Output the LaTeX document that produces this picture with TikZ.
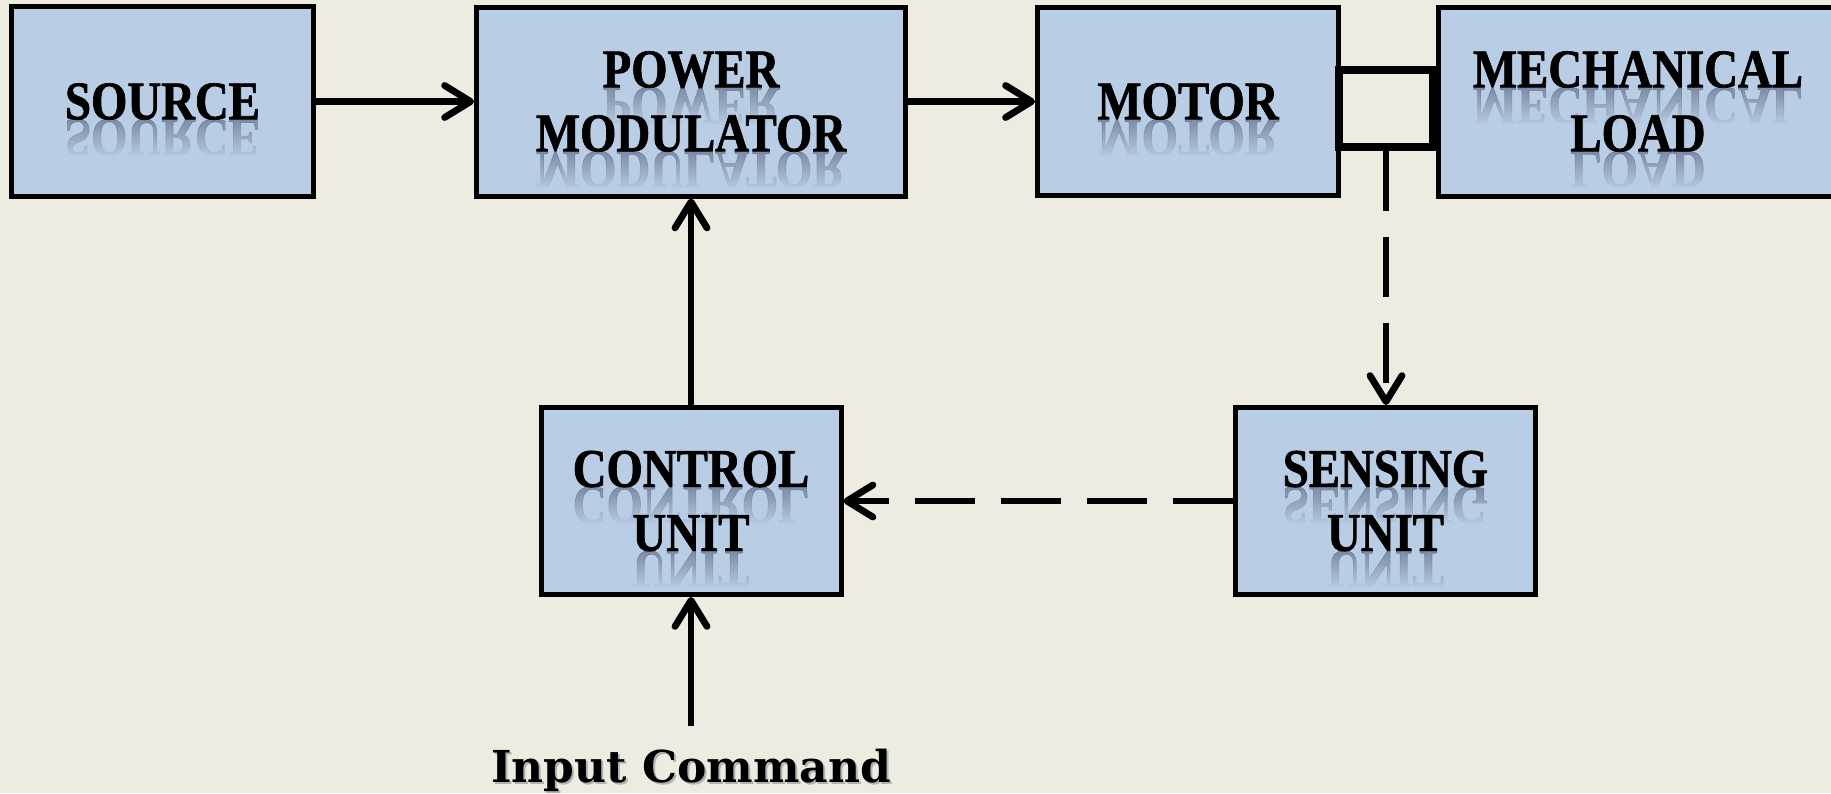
\documentclass[tikz,border=0pt]{standalone}
\usepackage{fontspec}
\usetikzlibrary{arrows.meta,fadings}
\newfontfamily\blockfont[FakeStretch=0.86,FakeBold=1.2]{Liberation Serif}
\newfontfamily\cmdfont{DejaVu Serif}
\definecolor{paper}{HTML}{EEECE1}
\definecolor{blockfill}{HTML}{B9CDE5}
\definecolor{mirror}{HTML}{34425A}
\tikzfading[name=mirrorfade, top color=transparent!100, bottom color=transparent!0]
\pgfdeclarelayer{fills}
\pgfdeclarelayer{mirrors}
\pgfsetlayers{fills,mirrors,main}
\tikzset{
  block/.style={draw=black, line width=2.5pt, rectangle, align=center, inner sep=0pt,
    font=\blockfont\bfseries\fontsize{27.2}{32}\selectfont},
  mirrored/.style={yscale=-1, anchor=base, inner sep=0pt, text=mirror, text opacity=0.6,
    font=\blockfont\bfseries\fontsize{27.2}{32}\selectfont},
  coupling/.style={draw=black, line width=4.25pt, rectangle, inner sep=0pt,
    minimum width=47pt, minimum height=38.5pt},
  flow/.style={line width=3.4pt, -{Straight Barb[length=13pt,width=16pt,round]}},
  feedback/.style={flow, dash pattern=on 30pt off 13pt},
  cmdtext/.style={anchor=base, inner sep=0pt, font=\cmdfont\bfseries\fontsize{22}{26}\selectfont}
}
% mirrored, fading copy of one text line under its baseline
\newcommand\mirrorline[3]{%
  \begin{pgfonlayer}{mirrors}
    \node[mirrored] (#1) at #2 {#3};
    \fill[blockfill, path fading=mirrorfade]
      ([xshift=-3pt,yshift=6pt]#1.base west) rectangle ([xshift=3pt,yshift=-1pt]#1.north east);
  \end{pgfonlayer}}

\begin{document}
\begin{tikzpicture}[x=0.5pt,y=0.5pt]
\useasboundingbox (0,0) rectangle (1831,-793);
\clip (0,0) rectangle (1831,-793);

% blocks
\node[block, minimum width=151pt,   minimum height=95pt]   (src)  at (162.5,-101.5) {SOURCE};
\node[block, minimum width=214.5pt, minimum height=94.5pt] (pm)   at (691,-101.5)   {POWER\\MODULATOR};
\node[block, minimum width=150.5pt, minimum height=94pt]   (mot)  at (1188,-101.5)  {MOTOR};
\node[block, minimum width=200pt,   minimum height=94.5pt] (load) at (1638,-101.5)  {MECHANICAL\\LOAD};
\node[block, minimum width=150pt,   minimum height=93.5pt] (ctl)  at (691,-501)     {CONTROL\\UNIT};
\node[block, minimum width=150pt,   minimum height=93.5pt] (sns)  at (1385.5,-501)  {SENSING\\UNIT};

% shaft coupling between motor and load
\node[coupling] (cpl) at (1386,-108.5) {};

% input label with its soft shadow
\node[cmdtext, text=black!45, text opacity=0.6] (cmdshadow) at (693,-784) {Input Command};
\node[cmdtext] (cmd) at (691,-782) {Input Command};

% page and block fills
\begin{pgfonlayer}{fills}
  \fill[paper] (0,0) rectangle (1831,-793);
  \foreach \b in {src,pm,mot,load,ctl,sns}
    \fill[blockfill] (\b.south west) rectangle (\b.north east);
\end{pgfonlayer}

% text reflections
\mirrorline{msrc}{([yshift=-9pt]src.center)}{SOURCE}
\mirrorline{mpma}{([yshift=7pt]pm.center)}{POWER}
\mirrorline{mpmb}{([yshift=-25pt]pm.center)}{MODULATOR}
\mirrorline{mmot}{([yshift=-9pt]mot.center)}{MOTOR}
\mirrorline{mloada}{([yshift=7pt]load.center)}{MECHANICAL}
\mirrorline{mloadb}{([yshift=-25pt]load.center)}{LOAD}
\mirrorline{mctla}{([yshift=7pt]ctl.center)}{CONTROL}
\mirrorline{mctlb}{([yshift=-25pt]ctl.center)}{UNIT}
\mirrorline{msnsa}{([yshift=7pt]sns.center)}{SENSING}
\mirrorline{msnsb}{([yshift=-25pt]sns.center)}{UNIT}

% connectors
\draw[flow] (src.east) -- (pm.west);
\draw[flow] (pm.east) -- (mot.west);
\draw[flow] (ctl.north) -- (pm.south);
\draw[flow, shorten <=11.3pt] (cmd.north) -- (ctl.south);
\draw[feedback] (cpl.south) -- (cpl.south |- sns.north);
\draw[feedback] (sns.west) -- (ctl.east);
\end{tikzpicture}
\end{document}
